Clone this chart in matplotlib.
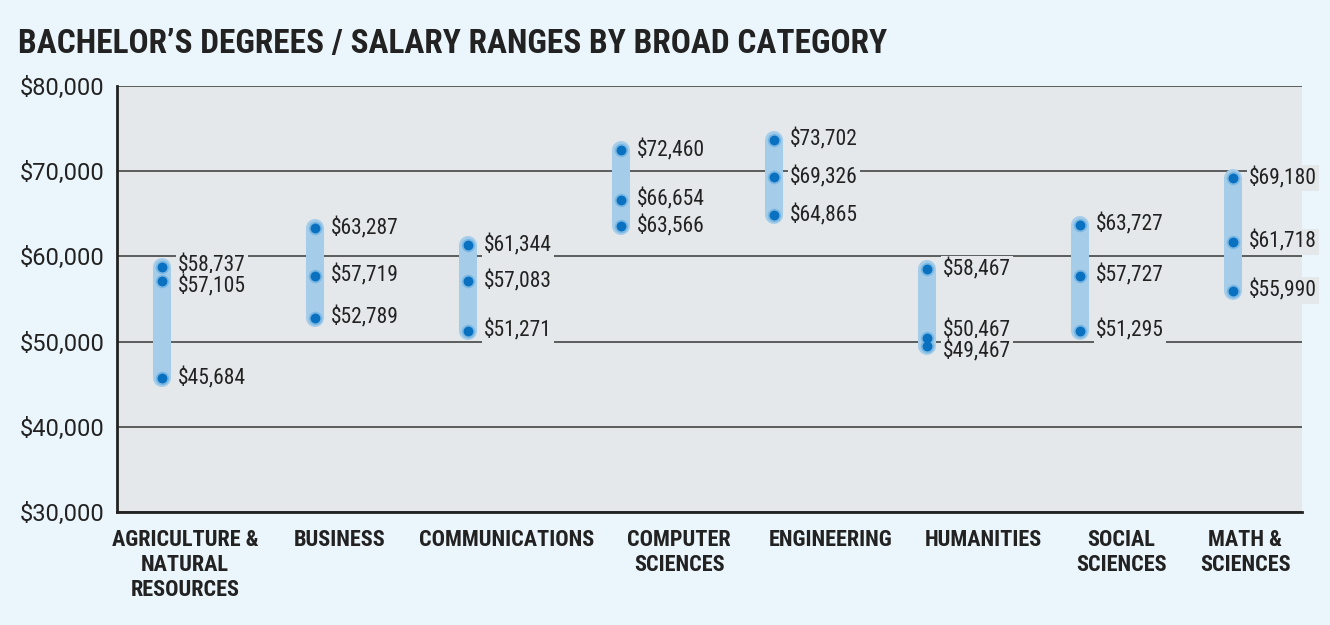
import matplotlib.pyplot as plt
from matplotlib import font_manager

categories = ['AGRICULTURE &\nNATURAL\nRESOURCES', 'BUSINESS', 'COMMUNICATIONS',
              'COMPUTER\nSCIENCES', 'ENGINEERING', 'HUMANITIES',
              'SOCIAL\nSCIENCES', 'MATH &\nSCIENCES']
high = [58737, 63287, 61344, 72460, 73702, 58467, 63727, 69180]
mid = [57105, 57719, 57083, 66654, 69326, 50467, 57727, 61718]
low = [45684, 52789, 51271, 63566, 64865, 49467, 51295, 55990]
yticks = [30000, 40000, 50000, 60000, 70000, 80000]

names = {f.name for f in font_manager.fontManager.ttflist}
cands = ['Roboto Condensed', 'DejaVu Sans Condensed', 'Liberation Sans Narrow']
narrow = [c for c in cands if c in names]
plt.rcParams['font.family'] = narrow + ['DejaVu Sans']

bg = '#ebf6fc'
panel = '#e4e8ea'
bar_c = '#a5cdea'
dot_c = '#0a70c0'
ink = '#222222'

fig = plt.figure(figsize=(13.3, 6.25), dpi=100, facecolor=bg)
ax = fig.add_axes([117 / 1330, 1 - 512 / 625, (1302 - 117) / 1330, (512 - 86) / 625])
ax.set_facecolor(panel)

x = list(range(len(categories)))
for i in x:
    ax.plot([i, i], [low[i], high[i]], color=bar_c, lw=13, solid_capstyle='round', zorder=3)
    for v in (high[i], mid[i], low[i]):
        ax.scatter([i], [v], s=95, color='#7ab8e4', zorder=4, linewidths=0)
        ax.scatter([i], [v], s=50, color=dot_c, zorder=5, linewidths=0)

# nudge labels that sit too close together
nudge = {(0, 'high'): 250, (0, 'mid'): -650, (5, 'mid'): 900, (5, 'low'): -600}
for i in x:
    for key, v in (('high', high[i]), ('mid', mid[i]), ('low', low[i])):
        yy = v + nudge.get((i, key), 0)
        ax.text(i + 0.105, yy, f'${v:,}', fontsize=15.5, color=ink, va='center', ha='left',
                zorder=6, bbox=dict(boxstyle='square,pad=0.1', fc=panel, ec='none'))

ax.set_xlim(-0.294, 7.45)
ax.set_ylim(30000, 80000)
ax.set_yticks(yticks)
ax.set_yticklabels([f'${t:,}' for t in yticks], fontsize=17, color=ink,
                   family=['Roboto', 'DejaVu Sans'])
# category names sit a little right of their bars in the original
label_shift = [0.15, 0.16, 0.25, 0.38, 0.37, 0.37, 0.27, 0.08]
ax.set_xticks([i + s for i, s in zip(x, label_shift)])
ax.set_xticklabels(categories, fontsize=16, fontweight='bold', color=ink, linespacing=1.2)
ax.tick_params(axis='both', length=0)
ax.tick_params(axis='y', pad=9)
ax.tick_params(axis='x', pad=12)
ax.grid(axis='y', color='#444444', lw=1.2, zorder=1)
ax.set_axisbelow(True)
for s in ('top', 'right'):
    ax.spines[s].set_visible(False)
ax.spines['left'].set_color(ink)
ax.spines['left'].set_linewidth(2)
ax.spines['bottom'].set_color(ink)
ax.spines['bottom'].set_linewidth(2)

fig.text(18 / 1330, 1 - 44 / 625, 'BACHELOR\u2019S DEGREES / SALARY RANGES BY BROAD CATEGORY',
         fontsize=24, fontweight='bold', color=ink, va='center', ha='left')

fig.savefig('out.png', dpi=100, facecolor=bg)
